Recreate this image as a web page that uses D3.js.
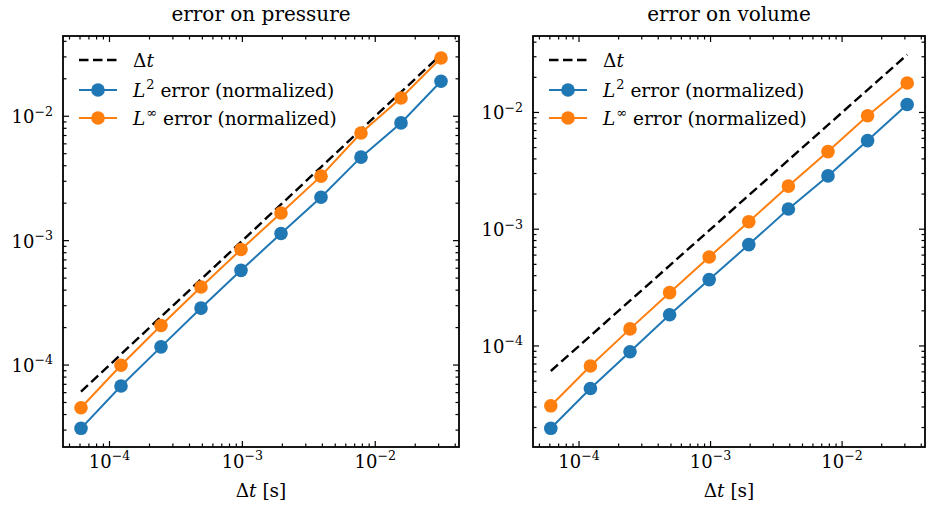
<!DOCTYPE html>
<html>
<head>
<meta charset="utf-8">
<script src="https://cdn.jsdelivr.net/npm/d3@7"></script>
<style>
  html, body { margin: 0; padding: 0; background: #fff; }
  svg { display: block; }
</style>
</head>
<body>
<svg id="chart" width="928" height="506" font-family="'DejaVu Serif', serif"></svg>
<script>
// ---------------- data ----------------
const dt = [6.103515625e-5, 1.220703125e-4, 2.44140625e-4, 4.8828125e-4, 9.765625e-4,
            1.953125e-3, 3.90625e-3, 7.8125e-3, 1.5625e-2, 3.125e-2];
const pressureL2   = [3.10e-5, 6.78e-5, 1.40e-4, 2.87e-4, 5.77e-4, 1.14e-3, 2.23e-3, 4.69e-3, 8.84e-3, 1.91e-2];
const pressureLinf = [4.54e-5, 9.95e-5, 2.08e-4, 4.24e-4, 8.49e-4, 1.67e-3, 3.30e-3, 7.34e-3, 1.40e-2, 2.94e-2];
const volumeL2     = [1.97e-5, 4.32e-5, 8.93e-5, 1.85e-4, 3.70e-4, 7.38e-4, 1.49e-3, 2.86e-3, 5.74e-3, 1.17e-2];
const volumeLinf   = [3.07e-5, 6.73e-5, 1.40e-4, 2.86e-4, 5.78e-4, 1.16e-3, 2.34e-3, 4.62e-3, 9.37e-3, 1.79e-2];
const panelTitles  = ["error on pressure", "error on volume"];
const xTickExps    = [-4, -3, -2];
const yTickExps    = [-4, -3, -2];
const legendSups   = ["2", "\u221E"];

// ---------------- layout / style ----------------
const C_BLUE = "#1f77b4", C_ORANGE = "#ff7f0e";
const panels = [
  { x0: 63,  x1: 459, y0: 36, y1: 447, title: panelTitles[0], l2: pressureL2, linf: pressureLinf },
  { x0: 533, x1: 925, y0: 36, y1: 447, title: panelTitles[1], l2: volumeL2,   linf: volumeLinf }
];
const svg = d3.select("#chart");
const FS_TICK = 18, FS_TITLE = 20, FS_LEG = 18.5, FS_LABEL = 18.5;

function logPadDomain(vals) {
  const lo = Math.log10(d3.min(vals)), hi = Math.log10(d3.max(vals));
  const m = (hi - lo) * 0.05;
  return [Math.pow(10, lo - m), Math.pow(10, hi + m)];
}
function minorTicks(domain) {
  const out = [];
  const a = Math.floor(Math.log10(domain[0])), b = Math.ceil(Math.log10(domain[1]));
  for (let e = a; e <= b; e++) for (let k = 1; k <= 9; k++) {
    const v = k * Math.pow(10, e);
    if (v >= domain[0] && v <= domain[1]) out.push({ v, major: k === 1 });
  }
  return out;
}
function powLabel(sel, exp, fs) {
  sel.append("tspan").text("10");
  sel.append("tspan").attr("font-size", fs * 0.7).attr("dy", -fs * 0.42).text("\u2212" + Math.abs(exp));
}

panels.forEach(p => {
  const xDom = logPadDomain(dt);
  const yDom = logPadDomain(dt.concat(p.l2, p.linf));
  const x = d3.scaleLog().domain(xDom).range([p.x0, p.x1]);
  const y = d3.scaleLog().domain(yDom).range([p.y1, p.y0]);
  const g = svg.append("g");

  // data
  const line = d3.line().x((d, i) => x(dt[i])).y(d => y(d));
  g.append("path").datum(dt).attr("d", line).attr("fill", "none")
    .attr("stroke", "#000").attr("stroke-width", 2.4).attr("stroke-dasharray", "9.5,4.5");
  [[p.l2, C_BLUE], [p.linf, C_ORANGE]].forEach(([vals, col]) => {
    g.append("path").datum(vals).attr("d", line).attr("fill", "none")
      .attr("stroke", col).attr("stroke-width", 2);
    g.selectAll(null).data(vals).enter().append("circle")
      .attr("cx", (d, i) => x(dt[i])).attr("cy", d => y(d)).attr("r", 6.8).attr("fill", col);
  });

  // ticks (inward, all four sides)
  const tk = g.append("g").attr("stroke", "#000").attr("stroke-width", 1.2);
  minorTicks(xDom).forEach(t => {
    const L = t.major ? 6 : 3.5, xx = x(t.v);
    tk.append("line").attr("x1", xx).attr("x2", xx).attr("y1", p.y1).attr("y2", p.y1 - L);
    tk.append("line").attr("x1", xx).attr("x2", xx).attr("y1", p.y0).attr("y2", p.y0 + L);
  });
  minorTicks(yDom).forEach(t => {
    const L = t.major ? 6 : 3.5, yy = y(t.v);
    tk.append("line").attr("y1", yy).attr("y2", yy).attr("x1", p.x0).attr("x2", p.x0 + L);
    tk.append("line").attr("y1", yy).attr("y2", yy).attr("x1", p.x1).attr("x2", p.x1 - L);
  });

  // frame
  g.append("rect").attr("x", p.x0).attr("y", p.y0).attr("width", p.x1 - p.x0).attr("height", p.y1 - p.y0)
    .attr("fill", "none").attr("stroke", "#000").attr("stroke-width", 1.8);

  // tick labels
  xTickExps.forEach(e => {
    const t = g.append("text").attr("x", x(Math.pow(10, e))).attr("y", 468)
      .attr("text-anchor", "middle").attr("font-size", FS_TICK);
    powLabel(t, e, FS_TICK);
  });
  yTickExps.forEach(e => {
    const t = g.append("text").attr("x", p.x0 - 10).attr("y", y(Math.pow(10, e)) + 7)
      .attr("text-anchor", "end").attr("font-size", FS_TICK);
    powLabel(t, e, FS_TICK);
  });

  // title
  g.append("text").attr("x", (p.x0 + p.x1) / 2).attr("y", 21).attr("text-anchor", "middle")
    .attr("font-size", FS_TITLE).text(p.title);

  // x label
  const xl = g.append("text").attr("x", (p.x0 + p.x1) / 2).attr("y", 497).attr("text-anchor", "middle")
    .attr("font-size", FS_LABEL);
  xl.append("tspan").text("\u0394");
  xl.append("tspan").attr("font-style", "italic").text("t");
  xl.append("tspan").text(" [s]");

  // legend
  const lg = g.append("g").attr("transform", `translate(${p.x0},${p.y0})`);
  const rows = [24, 54, 82];
  lg.append("line").attr("x1", 16).attr("x2", 54).attr("y1", rows[0]).attr("y2", rows[0])
    .attr("stroke", "#000").attr("stroke-width", 2.4).attr("stroke-dasharray", "9.5,4.5");
  const t0 = lg.append("text").attr("x", 70).attr("y", rows[0] + 7).attr("font-size", FS_LEG);
  t0.append("tspan").text("\u0394");
  t0.append("tspan").attr("font-style", "italic").text("t");
  [[C_BLUE, legendSups[0], rows[1]], [C_ORANGE, legendSups[1], rows[2]]].forEach(([col, sup, ry]) => {
    lg.append("line").attr("x1", 16).attr("x2", 54).attr("y1", ry).attr("y2", ry)
      .attr("stroke", col).attr("stroke-width", 2);
    lg.append("circle").attr("cx", 35).attr("cy", ry).attr("r", 6.8).attr("fill", col);
    const t = lg.append("text").attr("x", 70).attr("y", ry + 7).attr("font-size", FS_LEG);
    t.append("tspan").attr("font-style", "italic").text("L");
    t.append("tspan").attr("font-size", FS_LEG * 0.7).attr("dy", -FS_LEG * 0.42).attr("dx", 1).text(sup);
    t.append("tspan").attr("dy", FS_LEG * 0.42).text(" error (normalized)");
  });
});
</script>
</body>
</html>
